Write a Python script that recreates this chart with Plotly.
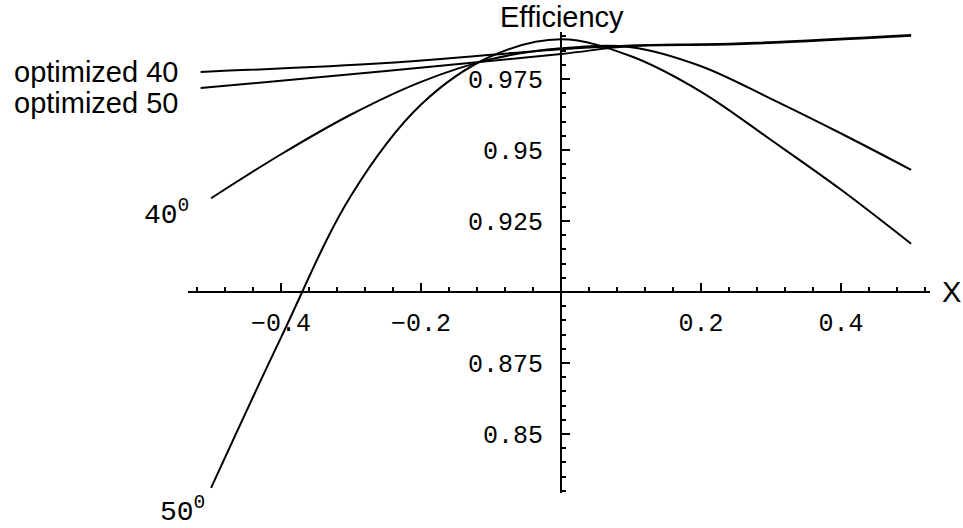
import plotly.graph_objects as go

# Efficiency versus X for fixed angles of 40 and 50 degrees,
# plus the optimized-angle efficiency lines.
x_fixed = [-0.5, -0.4, -0.3, -0.2, -0.1, 0.0, 0.1, 0.2, 0.3, 0.4, 0.5]
eff_40 = [0.933, 0.9485, 0.9625, 0.974, 0.982, 0.9858, 0.9862, 0.9795, 0.968, 0.9558, 0.943]
eff_50 = [0.831, 0.884, 0.934, 0.966, 0.983, 0.989, 0.983, 0.9705, 0.9535, 0.936, 0.917]

x_opt = [-0.515, -0.25, 0.0, 0.1, 0.25, 0.5]
opt_40 = [0.9775, 0.9806, 0.9855, 0.9868, 0.9875, 0.9905]
opt_50 = [0.9718, 0.9778, 0.9838, 0.9866, 0.9872, 0.9902]

x_ticks = [-0.4, -0.2, 0.2, 0.4]
x_ticktext = ["\u22120.4", "\u22120.2", "0.2", "0.4"]
y_ticks = [0.85, 0.875, 0.925, 0.95, 0.975]
y_ticktext = ["0.85", "0.875", "0.925", "0.95", "0.975"]

x_range = [-0.533, 0.527]
y_range = [0.8292, 0.99155]
x_cross = 0.0   # where the vertical axis sits
y_cross = 0.9   # where the horizontal axis sits

W, H = 963, 528
M = dict(l=188, r=33, t=32, b=35)

SANS = "Liberation Sans, Arial, sans-serif"
MONO = "Liberation Mono, Courier New, monospace"

line_style = dict(color="black", width=2)

fig = go.Figure()
fig.add_trace(go.Scatter(x=x_fixed, y=eff_40, mode="lines", line=dict(shape="spline", **line_style)))
fig.add_trace(go.Scatter(x=x_fixed, y=eff_50, mode="lines", line=dict(shape="spline", **line_style)))
fig.add_trace(go.Scatter(x=x_opt, y=opt_40, mode="lines", line=dict(shape="spline", **line_style)))
fig.add_trace(go.Scatter(x=x_opt, y=opt_50, mode="lines", line=dict(shape="spline", **line_style)))


def paper_xy(px, py):
    """Convert a pixel position on the page to paper coordinates."""
    pw = W - M["l"] - M["r"]
    ph = H - M["t"] - M["b"]
    return (px - M["l"]) / pw, (H - M["b"] - py) / ph


def label(text, px, py, size, family, xanchor="center"):
    x, y = paper_xy(px, py)
    fig.add_annotation(text=text, x=x, y=y, xref="paper", yref="paper",
                       xanchor=xanchor, yanchor="middle", showarrow=False,
                       font=dict(size=size, family=family, color="black"))


label("Efficiency", 562, 17, 29, SANS)
label("X", 951, 292, 29, SANS)
label("optimized 40", 180, 72, 29, SANS, xanchor="right")
label("optimized 50", 180, 103, 29, SANS, xanchor="right")
label("40<sup>0</sup>", 191, 213, 28, MONO, xanchor="right")
label("50<sup>0</sup>", 207, 510, 28, MONO, xanchor="right")

xpos = (y_cross - y_range[0]) / (y_range[1] - y_range[0])
ypos = (x_cross - x_range[0]) / (x_range[1] - x_range[0])

fig.update_layout(
    width=W, height=H, margin=M,
    paper_bgcolor="white", plot_bgcolor="white",
    showlegend=False,
    xaxis=dict(
        range=x_range, anchor="free", position=xpos,
        showgrid=False, zeroline=False,
        showline=True, linecolor="black", linewidth=2,
        ticks="inside", ticklen=8, tickwidth=2, tickcolor="black",
        tickvals=x_ticks, ticktext=x_ticktext,
        ticklabelstandoff=8,
        tickfont=dict(family=MONO, size=25, color="black"),
        minor=dict(tick0=0, dtick=0.04, ticks="inside", ticklen=4, tickwidth=1.5, tickcolor="black"),
    ),
    yaxis=dict(
        range=y_range, anchor="free", position=ypos,
        showgrid=False, zeroline=False,
        showline=True, linecolor="black", linewidth=2,
        ticks="inside", ticklen=8, tickwidth=2, tickcolor="black",
        tickvals=y_ticks, ticktext=y_ticktext,
        ticklabelstandoff=12,
        tickfont=dict(family=MONO, size=25, color="black"),
        minor=dict(tick0=0, dtick=0.005, ticks="inside", ticklen=4, tickwidth=1.5, tickcolor="black"),
    ),
)

fig.write_html("out.html")
